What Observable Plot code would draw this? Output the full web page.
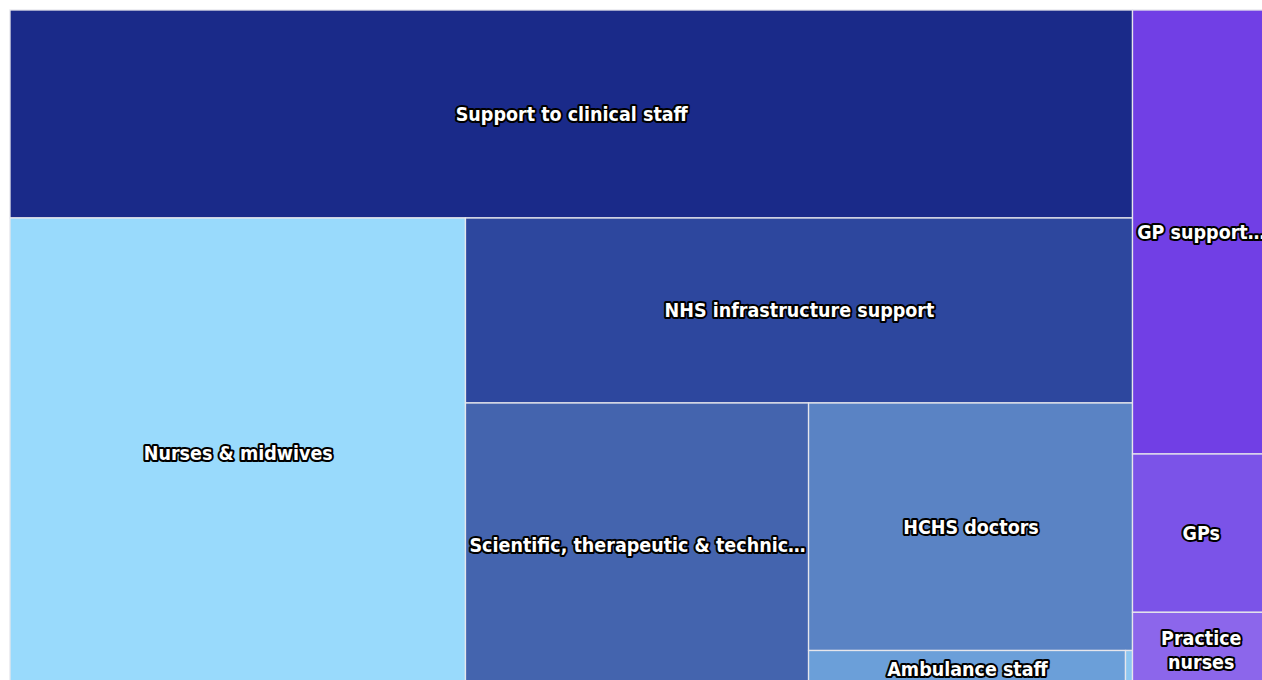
<!DOCTYPE html>
<html>
<head>
<meta charset="utf-8">
<script src="https://cdn.jsdelivr.net/npm/d3@7"></script>
<script src="https://cdn.jsdelivr.net/npm/@observablehq/plot@0.6"></script>
<style>
  html, body { margin: 0; padding: 0; background: #fff; overflow: hidden; }
  #title {
    position: absolute; left: 10px; top: -24px;
    font-family: "DejaVu Sans Condensed", "DejaVu Sans", sans-serif;
    font-stretch: condensed; font-weight: 700; font-size: 24px; line-height: 28px;
    white-space: nowrap; color: #111;
  }
  #chart { position: absolute; left: 0; top: 0; width: 1279px; }
  #chart svg { max-width: none !important; }
</style>
</head>
<body>
<div id="title">Composition of the NHS workforce, FTE in thousands</div>
<div id="chart"></div>
<script>
// ---- data (FTE, thousands) ----
const groups = ["Hospital & community health services", "General practice"];

const hchsStaff = [
  "Support to clinical staff",
  "Nurses & midwives",
  "NHS infrastructure support",
  "Scientific, therapeutic & technical staff",
  "HCHS doctors",
  "Ambulance staff",
  "Other staff"
];
const hchsFte = [329.0, 301.7, 173.9, 137.8, 113.0, 16.75, 0.37];

const gpStaff = ["GP support staff", "GPs", "Practice nurses"];
const gpFte = [85.4, 30.45, 14.56];

// ---- styles ----
const hchsColors = ["#1a2a89", "#99dafc", "#2d479e", "#4464ae", "#5a83c4", "#6b9fd9", "#8cc6f0"];
const gpColors = ["#713fe5", "#7b53e8", "#8c66eb"];

const W = 1279, H = 698, M = 10;
const FONT_FAMILY = '"DejaVu Sans Condensed", "DejaVu Sans", sans-serif';
const FONT_SIZE = 19.5;

// ---- hierarchy + layout ----
const data = {
  name: "NHS",
  children: [
    {name: groups[0], children: hchsStaff.map((n, i) => ({name: n, value: hchsFte[i], color: hchsColors[i]}))},
    {name: groups[1], children: gpStaff.map((n, i) => ({name: n, value: gpFte[i], color: gpColors[i]}))}
  ]
};

// alternating slice-and-dice: each child takes a full strip, direction flips per child
function alternate(startWithRow) {
  return (node, x0, y0, x1, y1) => {
    let row = startWithRow;
    let rem = node.value;
    for (const c of node.children) {
      const k = rem ? c.value / rem : 0;
      if (row) {
        const y = y0 + (y1 - y0) * k;
        c.x0 = x0; c.x1 = x1; c.y0 = y0; c.y1 = y; y0 = y;
      } else {
        const x = x0 + (x1 - x0) * k;
        c.x0 = x0; c.x1 = x; c.y0 = y0; c.y1 = y1; x0 = x;
      }
      rem -= c.value;
      row = !row;
    }
  };
}

const root = d3.hierarchy(data).sum(d => d.value || 0).sort((a, b) => b.value - a.value);
d3.treemap()
  .size([1, 1])
  .round(false)
  .tile((node, x0, y0, x1, y1) => {
    if (node.depth === 0) return alternate(false)(node, x0, y0, x1, y1);
    if (node.data.name === groups[0]) return alternate(true)(node, x0, y0, x1, y1);
    return d3.treemapSlice(node, x0, y0, x1, y1);
  })(root);

const leaves = root.leaves().map(d => ({
  name: d.data.name, color: d.data.color, group: d.parent.data.name,
  x0: d.x0, x1: d.x1, y0: d.y0, y1: d.y1, cx: (d.x0 + d.x1) / 2, cy: (d.y0 + d.y1) / 2
}));

// ---- label fitting (wrap two-word names, otherwise ellipsis) ----
const xs = Plot.scale({x: {domain: [0, 1], range: [M, W - M]}});
const ys = Plot.scale({y: {domain: [0, 1], range: [M, H - M]}});
const ctx = document.createElement("canvas").getContext("2d");
ctx.font = `bold ${FONT_SIZE}px ${FONT_FAMILY}`;
const tw = s => ctx.measureText(s).width;

function fitLabel(name, wpx, hpx) {
  const avail = wpx - 4;
  if (hpx < FONT_SIZE) return "";
  if (tw(name) <= avail) return name;
  const words = name.split(" ");
  if (words.length === 2 && words.every(w => tw(w) <= avail) && hpx > FONT_SIZE * 2.6) return words.join("\n");
  let s = name;
  while (s.length > 1 && tw(s + "\u2026") > avail) s = s.slice(0, -1);
  return s.length > 1 ? s + "\u2026" : "";
}

for (const l of leaves) {
  const wpx = xs.apply(l.x1) - xs.apply(l.x0);
  const hpx = ys.apply(l.y1) - ys.apply(l.y0);
  l.label = fitLabel(l.name, wpx, hpx);
}

const chart = Plot.plot({
  width: W,
  height: H,
  margin: M,
  x: {domain: [0, 1], axis: null},
  y: {domain: [0, 1], axis: null, reverse: true},
  color: {type: "identity"},
  style: {background: "#fff", maxWidth: "none"},
  marks: [
    Plot.rect(leaves, {x1: "x0", x2: "x1", y1: "y0", y2: "y1", fill: "color", stroke: "#e6e6ec", strokeWidth: 1.3}),
    Plot.text(leaves.filter(d => d.label), {
      x: "cx", y: "cy", dy: -1, text: "label",
      fill: "white", stroke: "#000", strokeWidth: 4, strokeLinejoin: "round",
      fontSize: FONT_SIZE, fontWeight: "bold", fontFamily: FONT_FAMILY,
      lineHeight: 1.2, textAnchor: "middle", lineAnchor: "middle"
    })
  ]
});
chart.style.fontStretch = "condensed";
chart.style.maxWidth = "none";
document.getElementById("chart").appendChild(chart);
</script>
</body>
</html>
